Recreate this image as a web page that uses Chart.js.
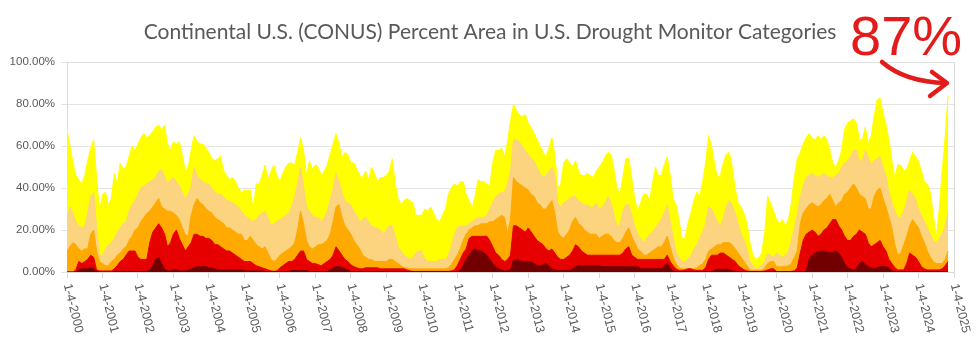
<!DOCTYPE html>
<html>
<head>
<meta charset="utf-8">
<script src="https://cdn.jsdelivr.net/npm/chart.js@4.4.1/dist/chart.umd.min.js"></script>
<style>
  html, body { margin: 0; padding: 0; background: #fff; }
</style>
</head>
<body>
<canvas id="grafico" width="980" height="353"></canvas>
<script>
// monthly readings, Jan 2000 .. Nov 2024, cumulative percent of CONUS area
const anoInicio = 2000
const anoFim = 2025
const rotulos = ['1-4-2000','1-4-2001','1-4-2002','1-4-2003','1-4-2004','1-4-2005','1-4-2006','1-4-2007','1-4-2008','1-4-2009','1-4-2010','1-4-2011','1-4-2012',
  '1-4-2013','1-4-2014','1-4-2015','1-4-2016','1-4-2017','1-4-2018','1-4-2019','1-4-2020','1-4-2021','1-4-2022','1-4-2023','1-4-2024','1-4-2025']

const d0_d4 = [
  68,60,52,46,44,42,46,53,59,63,45,29,
  37,38,32,35,47,42,52,49,50,55,60,58,
  61,64,66,64,65,67,69,70,68,70,61,58,
  62,61,62,56,48,50,58,65,62,61,61,59,
  57,54,53,54,55,48,46,44,45,43,40,38,
  39,39,39,30,42,42,46,51,44,48,51,46,
  43,47,50,52,52,51,57,64,58,46,53,49,
  51,50,46,48,51,56,61,66,61,55,57,56,
  52,52,49,46,45,48,44,50,47,43,45,45,
  46,48,54,42,35,32,34,35,34,33,27,27,
  27,30,29,31,28,25,24,27,30,37,40,42,
  41,43,43,37,34,30,36,44,43,43,42,41,
  52,58,58,59,55,62,72,80,77,75,74,75,
  71,69,66,63,60,57,55,59,64,56,40,42,
  52,54,52,50,53,48,46,46,47,46,45,48,
  50,52,55,57,56,49,40,37,45,54,54,45,
  35,29,33,37,37,34,42,50,46,46,51,55,
  46,35,32,25,16,16,23,28,34,38,36,43,
  52,65,60,52,45,46,52,56,57,50,40,33,
  31,28,23,14,8,6,7,9,19,36,33,29,
  25,23,25,22,25,33,45,54,57,61,64,66,
  64,63,65,63,65,63,58,52,50,53,58,68,
  71,72,73,71,63,63,69,61,65,74,82,83,
  76,70,63,53,45,51,51,48,49,53,57,55,
  53,48,43,42,38,27,16,30,48,64,84
]
const d1_d4 = [
  26,31,28,24,22,21,22,28,36,38,22,8,
  8,11,13,14,16,19,21,23,24,29,32,34,
  37,40,41,42,43,44,45,48,49,46,42,44,
  45,43,41,38,35,37,41,50,46,44,43,42,
  42,40,38,37,37,36,34,34,33,32,31,29,
  27,26,25,24,25,27,28,29,26,22,23,24,
  25,26,27,28,31,36,42,50,41,31,29,27,
  26,26,24,26,29,34,40,47,43,38,34,33,
  32,29,27,24,25,26,24,22,21,21,20,18,
  20,22,22,17,12,10,8,7,6,7,9,10,
  10,6,5,5,5,5,6,6,6,8,12,18,
  21,22,22,22,23,24,25,26,26,26,27,30,
  33,36,37,38,38,42,48,63,63,62,60,58,
  56,54,53,50,47,45,46,48,50,46,33,31,
  33,34,35,36,36,34,33,32,32,31,31,33,
  30,31,33,36,33,27,22,22,29,32,32,27,
  22,18,16,14,16,18,19,21,23,25,28,32,
  24,17,10,7,5,5,6,8,11,13,16,19,
  23,31,30,27,24,22,26,31,34,32,28,23,
  18,15,11,5,3,1.5,2,3,5,9,8,7,
  9,8,7,8,10,15,21,27,36,41,45,46,
  47,46,45,46,47,46,45,45,46,47,50,52,
  53,55,58,58,53,53,58,55,51,53,54,55,
  50,46,38,33,29,26,26,29,34,39,37,35,
  30,27,24,21,18,15,14,16,18,22,28
]
const d2_d4 = [
  10,12,14,13,11,10,11,11,18,20,10,5,
  4,3,3,5,6,8,9,11,12,15,17,20,
  21,24,26,28,29,31,33,35,31,30,29,29,
  28,27,25,21,18,17,27,32,35,33,32,30,
  29,28,26,25,24,23,21,21,20,19,18,18,
  15,15,17,15,13,12,11,12,9,6,5,6,
  8,9,10,11,12,14,20,29,23,15,12,11,
  12,13,13,14,15,18,24,31,32,26,22,20,
  18,15,13,11,8,7,6,6,5,5,5,5,
  5,6,6,5,4,3,2,2,1.5,1.5,1.5,1.5,
  1.5,1.5,1.5,1.5,1.5,1.5,1.5,1.5,1.5,2,3.5,6,
  8,11,15,18,20,21,22,22,23,23,23,24,
  24,25,26,27,26,18,25,45,43,42,41,40,
  39,37,36,33,32,30,30,32,34,28,19,17,
  16,18,20,24,26,23,22,20,19,18,18,18,
  16,17,18,18,17,15,14,14,16,19,21,17,
  14,11,10,8,8,9,10,11,12,12,14,17,
  12,7,4,2,1.5,1.5,1.5,1.5,1.5,2,3,4,
  6,10,11,12,13,13,14,14,14,13,11,9,
  7,5,3,1,0.8,0.8,0.8,0.8,2,4,5,5,
  2.5,2.5,2.5,2.5,3,4,7,10,23,28,30,32,
  33,32,31,32,34,35,37,34,31,33,34,37,
  38,40,42,40,37,36,35,30,30,36,39,40,
  35,31,26,21,13,8,9,13,17,22,25,23,
  21,17,14,10,7,5,4,4,4,6,10
]
const d3_d4 = [
  0,0,0,1,5,4,5,6,8,7,1,0.5,
  0.5,0.5,0.5,0.5,1.5,3,5,6,8,10,10,10,
  7,6,6,6,14,19,21,23,21,18,12,14,
  18,20,16,13,10,12,14,18,18,17,17,16,
  16,15,13,13,12,11,10,10,9,8,7,6,
  5,5,5,4,3,2.5,2,1.5,1,0.5,0.3,0.5,
  2,3,4,5,5,6,8,10,10,6,5,4,
  4,3.5,3,4,5,6,8,12,10,8,6,5,
  3.5,2.5,2,1.5,1.5,2,2,2,2,2,1.5,1.5,
  1.5,1.5,1.5,1.5,1.5,1.5,1.5,1,0.5,0.3,0.3,0.3,
  0.3,0.3,0.3,0.3,0.3,0.3,0.3,0.3,0.3,0.3,0.5,1,
  3,6,9,11,16,17,17,17,17,17,17,15,
  12,9,8,6,5,6,8,22,22,21,20,19,
  21,19,17,15,14,13,11,10,11,9,7,6,
  6,7,8,10,13,12,10,9,8,8,8,8,
  8,8,8,8,8,8,8,8,9,11,12,8,
  7,6,6,6,6,6,6,6,6,6,6,8,
  5,3,1.5,0.8,0.8,1,1.5,1.5,1,0.8,0.8,0.8,
  2,6,8,8,8,9,9,8,7,6,5,3,
  2,1,0.5,0.3,0.3,0.3,0.3,0.3,0.5,1,1.5,1.5,
  0.2,0.2,0.2,0.2,0.2,0.3,0.5,2,9,15,18,19,
  20,19,17,18,20,21,23,25,25,22,20,17,
  15,15,17,18,20,19,18,14,12,13,14,15,
  12,10,6,4,2,1,1,1,4,9,8,7,
  5,2.5,1.5,1,1,1,1,1,1.5,3,5
]
const d4 = [
  0,0,0,0,1,1.5,1.5,1.5,2,1.5,0.5,0,
  0,0,0,0,0.3,0.3,0.3,0.3,0.3,0.3,0.3,0.3,
  0.3,0.3,0.3,0.3,1,3,6,7,4,1.5,0.5,0.5,
  1,1,0.5,0.5,0.5,0.8,1.5,2,2.5,2.5,2.5,2.5,
  2,2,1.5,1,1,1,1,1,1,1,1,1,
  0.5,0.5,0.5,0.5,0.5,0.5,0.5,0.2,0.2,0.2,0.2,0.2,
  0.2,0.2,0.2,0.2,0.7,0.7,0.7,0.7,0.7,0.7,0.2,0.2,
  0.2,0.2,0.2,0.2,0.2,1,2,2.5,2.5,2,1.5,1,
  0.2,0.2,0.2,0.2,0.2,0.2,0.2,0.2,0.2,0.2,0.2,0.2,
  0.2,0.2,0.2,0.2,0.2,0.2,0.2,0.2,0.2,0.2,0.2,0.2,
  0.2,0.2,0.2,0.2,0.2,0.2,0.2,0.2,0.2,0.2,0.2,0.2,
  0.2,0.5,3,6,8,10,11,10,10,9,8,6,
  4,2.5,1.5,1,0.5,0.5,1,5.5,6,5.5,5,5,
  5,5,4,3,3,3.5,4,3,1.5,1,0.7,0.7,
  0.7,0.7,0.7,1.5,2.5,3,3,3,3,3,3,3,
  3,2.5,2.5,2.5,2.5,2.5,2.5,2.5,2.5,2.5,2.5,2.5,
  2.5,2.5,1.5,1.5,1.5,1.5,1.5,1.5,1.5,1.5,3,4,
  2,0.5,0.2,0.2,0.2,0.2,0.2,0.2,0.2,0.2,0.2,0.2,
  0.2,0.2,0.2,0.8,1.3,1.3,1.3,1.3,1,0.5,0.2,0.2,
  0.2,0.2,0.2,0.2,0.2,0.2,0.2,0.2,0.2,0.2,0.2,0.2,
  0.2,0.2,0.2,0.2,0.2,0.2,0.2,0.2,0.2,0.2,0.3,6,
  8,9,9.5,10,10,9.5,9,9.5,10,9,7,4,
  2,1.5,1,1.5,4,5,3.5,2.5,2,1.7,2,2.5,
  2.5,2.5,2,0.5,0.2,0.2,0.2,0.2,0.2,0.2,0.2,0.2,
  0.2,0.2,0.2,0.2,0.2,0.2,0.2,0.2,0.2,0.2,0.2
]

const meses = d0_d4.map((v, i) => anoInicio + i / 12)

function serie(nome, valores, cor) {
  return {
    label: nome,
    data: valores.map((v, i) => ({ x: meses[i], y: v })),
    backgroundColor: cor,
    borderColor: cor,
    borderWidth: 1,
    pointRadius: 0,
    tension: 0,
    fill: 'origin'
  }
}

// rotated date labels + the red note drawn by hand on the picture
const extras = {
  id: 'extras',
  afterDraw(chart) {
    const c = chart.ctx
    const x = chart.scales.x
    const area = chart.chartArea
    c.save()
    c.fillStyle = '#595959'
    c.font = '12.5px "Liberation Sans"'
    c.textAlign = 'left'
    c.textBaseline = 'middle'
    x.ticks.forEach((t, i) => {
      c.save()
      c.translate(x.getPixelForValue(t.value), area.bottom + 12)
      c.rotate(76 * Math.PI / 180)
      c.fillText(rotulos[i], 0, 0)
      c.restore()
    })

    c.fillStyle = '#e31b1b'
    c.strokeStyle = '#e31b1b'
    c.font = '56px "Liberation Sans"'
    c.textAlign = 'left'
    c.textBaseline = 'alphabetic'
    c.fillText('87%', 850, 55)

    c.lineWidth = 4.5
    c.lineCap = 'round'
    c.lineJoin = 'round'
    c.beginPath()
    c.moveTo(882, 62)
    c.quadraticCurveTo(905, 82, 946, 83)
    c.stroke()
    c.beginPath()
    c.moveTo(932, 72)
    c.lineTo(947, 83)
    c.lineTo(930, 96)
    c.stroke()
    c.restore()
  }
}

const ctx = document.getElementById('grafico')
let grafico = new Chart(ctx, {
  type: 'line',
  data: {
    datasets: [
      serie('D4', d4, '#730000'),
      serie('D3-D4', d3_d4, '#E60000'),
      serie('D2-D4', d2_d4, '#FFAA00'),
      serie('D1-D4', d1_d4, '#FCD37F'),
      serie('D0-D4', d0_d4, '#FFFF00')
    ]
  },
  options: {
    responsive: false,
    animation: false,
    layout: { padding: 0 },
    plugins: {
      legend: { display: false },
      tooltip: { enabled: false },
      title: {
        display: true,
        text: 'Continental U.S. (CONUS) Percent Area in U.S. Drought Monitor Categories',
        color: '#595959',
        font: { family: 'Lato', size: 21, weight: 'normal' },
        padding: { top: 20, bottom: 17 }
      }
    },
    scales: {
      x: {
        type: 'linear',
        min: anoInicio,
        max: anoFim,
        ticks: { display: false, stepSize: 1 },
        grid: { drawOnChartArea: false, tickLength: 6, color: '#d9d9d9' },
        border: { color: '#d9d9d9' },
        afterFit: s => { s.height = 81 }
      },
      y: {
        min: 0,
        max: 100,
        ticks: {
          stepSize: 20,
          callback: v => v.toFixed(2) + '%',
          color: '#595959',
          font: { family: 'Liberation Sans', size: 11.5 },
          padding: 6
        },
        grid: { color: '#e3e3e3', tickLength: 6 },
        border: { color: '#d9d9d9' },
        afterFit: s => { s.width = 67 }
      },
      y2: {
        position: 'right',
        display: true,
        ticks: { display: false },
        grid: { display: false },
        border: { color: '#d9d9d9' },
        afterFit: s => { s.width = 26 }
      }
    }
  },
  plugins: [extras]
})
</script>
</body>
</html>
